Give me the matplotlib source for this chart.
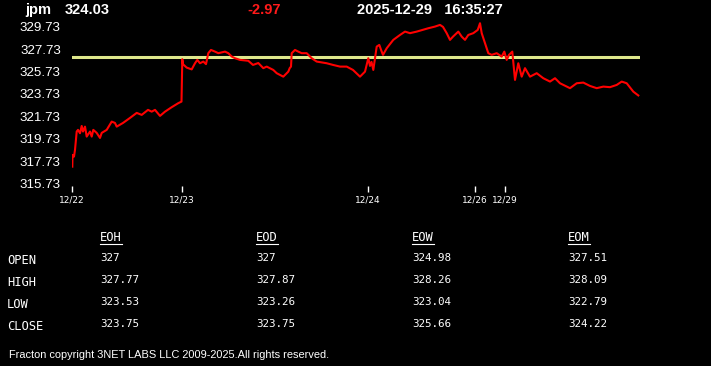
import numpy as np
import matplotlib.pyplot as plt
from matplotlib.lines import Line2D

# price trace (t = position along the trading-time axis, p = price)
t = [0.3, 0.5, 2, 3, 4.7, 6, 8, 9.7, 11, 13, 14.7, 18, 19.7, 21.3, 24.7, 28, 29.7,
     34.7, 39.7, 43, 44.7, 51, 58, 64.7, 69.7, 76, 79.7, 83, 88, 93, 99.7, 106.3,
     109.5, 110.3, 111, 114.7, 119.7, 123, 125.3, 128, 131.3, 134, 136.3, 139, 143,
     146.3, 153, 156.3, 159.7, 163, 168, 176.3, 181, 186.3, 191.3, 194.7, 201.3,
     204.7, 211.3, 216.3, 217.7, 219, 219.7, 223, 226.3, 229.7, 234.7, 239.7, 244.7,
     254.7, 261, 268, 274.7, 281, 288, 293, 296.3, 298, 299.5, 301.3, 304.7, 307.3,
     309.7, 311, 314.7, 321.3, 328, 333, 338, 344.7, 356.3, 363, 368, 371, 374.7,
     378, 381, 386.3, 389.7, 393, 396.3, 401.3, 405.7, 408, 409.7, 413, 416.3, 419.7,
     424.7, 429.7, 432.3, 434.7, 437, 440.3, 443, 446.3, 449.7, 453, 458, 464.7,
     471.3, 478, 483, 488, 498, 504.7, 511.3, 518, 524.7, 531.3, 538, 544.7, 549.7,
     554.7, 561.3, 566.3]
p = [317.23, 318.28, 318.13, 318.73, 320.37, 320.52, 320.22, 320.87, 320.37, 320.81,
     319.92, 320.37, 319.92, 320.52, 320.25, 319.80, 320.25, 320.52, 321.26, 321.14,
     320.81, 321.14, 321.59, 322.04, 321.86, 322.31, 322.15, 322.31, 321.77, 322.15,
     322.55, 322.91, 323.05, 326.84, 326.39, 326.09, 325.93, 326.48, 326.78, 326.48,
     326.63, 326.40, 327.38, 327.67, 327.52, 327.38, 327.52, 327.38, 327.08, 326.93,
     326.78, 326.70, 326.33, 326.50, 326.04, 326.18, 325.88, 325.59, 325.28, 325.73,
     326.04, 326.18, 327.38, 327.67, 327.52, 327.38, 327.38, 326.93, 326.63, 326.48,
     326.33, 326.18, 326.18, 325.88, 325.28, 325.73, 326.93, 326.24, 326.60, 325.88,
     327.97, 328.12, 327.52, 327.23, 327.82, 328.57, 329.01, 329.31, 329.17, 329.31,
     329.61, 329.76, 329.91, 329.73, 329.17, 328.57, 328.86, 329.31, 328.86, 328.57,
     329.01, 329.17, 329.46, 330.06, 329.17, 328.27, 327.38, 327.23, 327.38, 327.07,
     327.52, 326.78, 327.23, 327.52, 324.99, 326.48, 325.28, 326.04, 325.28, 325.59,
     325.14, 324.84, 325.14, 324.69, 324.25, 324.69, 324.75, 324.45, 324.25, 324.39,
     324.34, 324.54, 324.84, 324.69, 323.94, 323.60]
assert len(t) == len(p)

open_price = 327.0
y_ticks = [315.73, 317.73, 319.73, 321.73, 323.73, 325.73, 327.73, 329.73]
x_tick_pos = [0, 110, 296, 403, 433]
x_tick_lbl = ["12/22", "12/23", "12/24", "12/26", "12/29"]

symbol = "jpm"
last = "324.03"
change = "-2.97"
stamp = "2025-12-29   16:35:27"

row_names = ["OPEN", "HIGH", "LOW", "CLOSE"]
col_names = ["EOH", "EOD", "EOW", "EOM"]
table_vals = [
    ["327", "327", "324.98", "327.51"],
    ["327.77", "327.87", "328.26", "328.09"],
    ["323.53", "323.26", "323.04", "322.79"],
    ["323.75", "323.75", "325.66", "324.22"],
]

W, H = 711, 366
fig = plt.figure(figsize=(W / 100, H / 100), dpi=100, facecolor="black")


def px(x, y):
    return x / W, 1 - y / H


ax = fig.add_axes([72 / W, 180 / H, 568 / W, 167.7 / H], facecolor="black")
ax.plot(t, p, color="#ff0000", lw=1.5, zorder=3)
ax.axhline(open_price, color="#dfe88c", lw=2.2, zorder=2)
ax.set_xlim(0, 568)
ax.set_ylim(315.5, 330.5)
for s in ax.spines.values():
    s.set_visible(False)
ax.set_yticks(y_ticks)
ax.set_yticklabels([f"{v:.2f}" for v in y_ticks], color="white",
                   fontsize=9.6, family="Liberation Sans")
ax.tick_params(axis="y", length=0, pad=8)
ax.set_xticks(x_tick_pos)
ax.set_xticklabels(x_tick_lbl, color="white", fontsize=6.5, family="DejaVu Sans")
ax.tick_params(axis="x", length=4, width=1, color="white", pad=3, direction="out")

# header
hdr = dict(color="white", fontsize=10.5, fontweight="bold", family="Liberation Sans",
           va="center", ha="left")
fig.text(*px(25, 10), symbol, **hdr)
fig.text(*px(65, 10), last, **hdr)
fig.text(*px(247, 10), change, **{**hdr, "color": "#ff1a1a"})
fig.text(*px(357, 10), stamp, **hdr)

# stats table
mono = dict(color="white", fontsize=7.8, family="DejaVu Sans Mono", va="center", ha="left")
lab = {**mono, "fontsize": 8.7}
col_x = [100, 256, 412, 568]
row_y = [259, 281, 303, 325]
for cx, name in zip(col_x, col_names):
    fig.text(*px(cx, 238), name, **lab)
    x0, y0 = px(cx, 244)
    x1, _ = px(cx + 22, 244)
    fig.add_artist(Line2D([x0, x1], [y0, y0], color="white", lw=0.8,
                          transform=fig.transFigure))
for ry, name in zip(row_y, row_names):
    fig.text(*px(7, ry + 1), name, **lab)
for i, ry in enumerate(row_y):
    for j, cx in enumerate(col_x):
        fig.text(*px(cx, ry - 1), table_vals[i][j], **mono)

fig.text(*px(9, 355), "Fracton copyright 3NET LABS LLC 2009-2025.All rights reserved.",
         color="white", fontsize=7.95, family="Liberation Sans", va="center", ha="left")

fig.savefig("out.png", dpi=100, facecolor="black")
